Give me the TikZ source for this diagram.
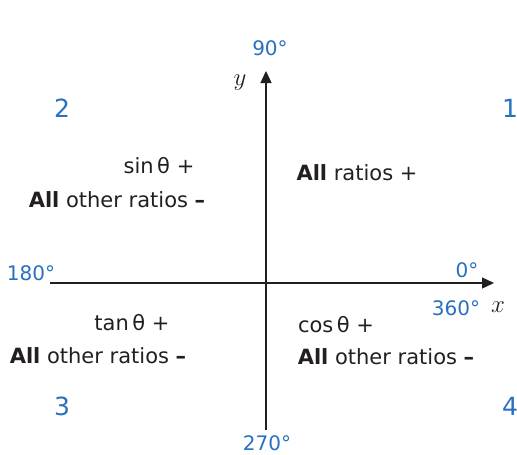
\documentclass[tikz,border=0pt]{standalone}
\usepackage{fontspec}
\setmainfont{DejaVu Sans}
\usetikzlibrary{arrows.meta}
\usepackage{xcolor}
\definecolor{quadblue}{RGB}{40, 112, 192}
\definecolor{inkgray}{RGB}{35, 31, 32}
\tikzstyle{axis}    = [-{Triangle[length=12pt, width=11pt]}, line width=1.4pt, draw=inkgray]
\tikzstyle{angle}   = [anchor=base, inner sep=1pt, text=quadblue, font=\fontsize{20}{20}\selectfont]
\tikzstyle{quadnum} = [anchor=base, text=quadblue, font=\fontsize{25}{25}\selectfont]
\tikzstyle{ratio}   = [anchor=base, text=inkgray, font=\fontsize{21}{21}\selectfont]
\tikzstyle{axlabel} = [anchor=base, text=inkgray, font=\fontsize{30}{30}\selectfont]

\begin{document}
\begin{tikzpicture}[x=1pt, y=-1pt]
  \useasboundingbox (0,0) rectangle (517,455);

  % axes
  \coordinate (west)  at (50,283);
  \coordinate (east)  at (494,283);
  \coordinate (south) at (266,430);
  \coordinate (north) at (266,71);
  \draw [axis] (west) -- (east);
  \draw [axis] (south) -- (north);

  \node (ylab) [axlabel] at (240,85) {$y$};
  \node (xlab) [axlabel] at (498,312) {$x$};

  % angles
  \node (a90)  [angle] at (270,55)  {90°};
  \node (a180) [angle] at (31,280)  {180°};
  \node (a0)   [angle] at (467,277) {0°};
  \node (a360) [angle] at (456,315) {360°};
  \node (a270) [angle] at (267,450) {270°};

  % quadrant numbers
  \node (q1) [quadnum] at (510,117) {1};
  \node (q2) [quadnum] at (62,117)  {2};
  \node (q3) [quadnum] at (62,415)  {3};
  \node (q4) [quadnum] at (510,415) {4};

  % signs of the ratios
  \node (sinp)   [ratio] at (159,173) {sin\,θ +};
  \node (sinoth) [ratio] at (117,207) {\textbf{All} other ratios \textbf{–}};
  \node (allp)   [ratio] at (357,180) {\textbf{All} ratios +};
  \node (tanp)   [ratio] at (132,330) {tan\,θ +};
  \node (tanoth) [ratio] at (98,363)  {\textbf{All} other ratios \textbf{–}};
  \node (cosp)   [ratio] at (336,332) {cos\,θ +};
  \node (cosoth) [ratio] at (386,364) {\textbf{All} other ratios \textbf{–}};
\end{tikzpicture}
\end{document}
